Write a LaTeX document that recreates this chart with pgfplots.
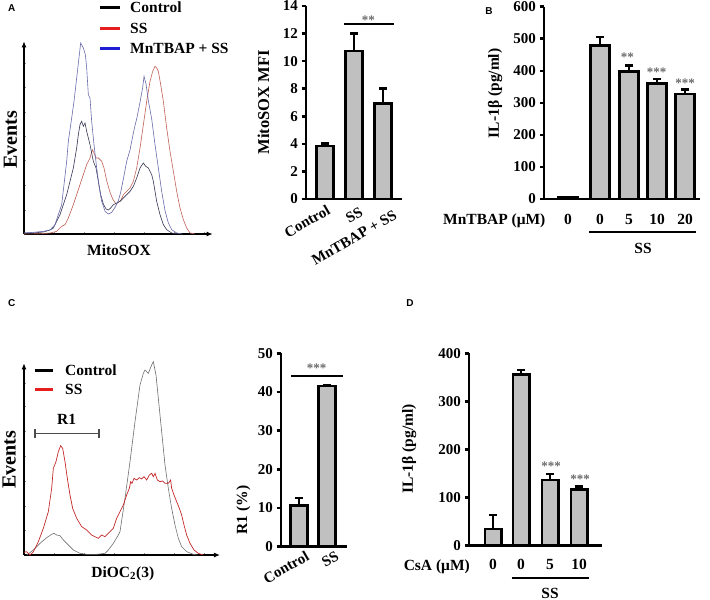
\documentclass[border=0pt]{standalone}
\usepackage{fontspec}
\setmainfont{Liberation Serif}
\newfontfamily\sanslbl{Liberation Sans}
\usepackage{pgfplots}
\pgfplotsset{compat=1.18}
\usetikzlibrary{arrows.meta}

\definecolor{barfill}{RGB}{192,192,192}
\definecolor{starc}{RGB}{105,105,105}
\definecolor{hblue}{RGB}{105,105,170}
\definecolor{hdark}{RGB}{55,55,85}
\definecolor{hred}{RGB}{190,95,85}
\definecolor{cred}{RGB}{195,40,40}
\definecolor{cgray}{RGB}{110,110,110}
\definecolor{legred}{RGB}{230,30,30}
\definecolor{legblue}{RGB}{30,30,210}

\newcommand{\fs}[1]{\fontsize{#1}{#1}\selectfont\bfseries}

\pgfplotsset{
  histo/.style={scale only axis, anchor=south west, axis lines=left,
    axis line style={line width=1.1pt, -{Latex[length=6pt,width=5pt]}},
    xmin=0, ymin=0, tick align=inside, major tick length=2.5pt,
    tick style={line width=0.4pt, black!45},
    xticklabels={}, yticklabels={}, clip=false},
  barax/.style={scale only axis, anchor=south west, axis lines=left,
    axis line style={line width=2.8pt, -}, xmin=0, ymin=0, clip=false,
    xtick=\empty, tick align=outside, major tick length=4.5pt,
    ytick style={line width=2.6pt, black},
    yticklabel style={font=\fs{15}},
    /pgf/number format/assume math mode=true},
  mybar/.style={ybar, bar width=#1, fill=barfill, draw=black, line width=2.6pt},
  stem/.style={ycomb, no marks, black, line width=2.6pt},
  cap/.style={only marks, mark=-, mark size=4pt, mark options={black, line width=2.6pt}},
}

\begin{document}
\begin{tikzpicture}[x=1pt,y=-1pt]
\path[use as bounding box] (0,0) rectangle (710,600);

% ---------- A: MitoSOX histogram
\begin{axis}[histo, at={(24pt,-234pt)}, width=188.7pt, height=192.7pt,
  xmax=566, ymax=578, xtick={90,180,270,360,450,540},
  ytick={70,146,220,293,366,440,513}]
\addplot[no marks, hred, line width=0.6pt] coordinates {
(0,0)(50,1)(78,3)(98,8)(113,23)(123,28)(133,48)(148,88)(158,118)(168,148)
(178,178)(188,208)(198,228)(205,253)(210,243)(216,228)(223,228)(233,218)
(240,198)(248,160)(258,125)(266,105)(276,90)(283,95)(290,100)(298,118)
(308,128)(318,138)(328,158)(338,198)(348,258)(358,328)(368,398)(378,458)
(386,488)(393,503)(398,498)(403,488)(410,448)(418,398)(428,318)(438,248)
(448,188)(458,128)(468,78)(478,43)(488,18)(498,3)(513,0)};
\addplot[no marks, hdark, line width=0.6pt] coordinates {
(0,3)(28,3)(58,6)(78,12)(88,18)(98,38)(108,58)(118,88)(128,118)(138,158)
(148,198)(158,258)(163,298)(168,328)(173,338)(178,323)(183,333)(188,308)
(193,288)(198,268)(203,243)(208,218)(216,198)(223,158)(230,118)(238,90)
(246,75)(253,72)(260,78)(268,88)(278,93)(288,98)(298,108)(308,118)(318,128)
(328,143)(338,168)(348,198)(358,213)(365,203)(373,198)(378,188)(383,178)
(388,158)(393,128)(398,98)(408,58)(418,28)(428,13)(443,3)(460,0)};
\addplot[no marks, hblue, line width=0.6pt] coordinates {
(0,3)(28,5)(58,8)(78,12)(93,28)(103,58)(113,88)(120,148)(128,218)(133,278)
(143,348)(150,398)(158,468)(166,538)(170,573)(178,558)(184,538)(188,498)
(193,418)(198,408)(203,338)(210,268)(218,198)(226,138)(233,98)(243,68)
(253,60)(263,65)(273,80)(283,100)(290,125)(298,165)(308,218)(318,252)
(328,303)(333,325)(338,345)(348,395)(356,440)(360,473)(366,450)(373,400)
(383,345)(393,268)(403,198)(413,128)(423,70)(433,33)(443,13)(458,3)(475,0)};
\end{axis}

% ---------- A: MitoSOX MFI bars (mean, mean + error)
\begin{axis}[barax, at={(306pt,-199pt)}, width=96pt, height=193pt,
  xmax=96, ymax=14, ytick={0,2,...,14}]
\addplot[stem] coordinates {(19,4.04)(48,12.0)(77,8.03)};
\addplot[mybar=17.4pt] coordinates {(19,3.84)(48,10.73)(77,6.94)};
\addplot[cap] coordinates {(19,4.04)(48,12.0)(77,8.03)};
\end{axis}

% ---------- B: IL-1beta, MnTBAP
\begin{axis}[barax, at={(544pt,-199pt)}, width=156pt, height=192.3pt,
  xmax=156, ymax=600, ytick={0,100,...,600}]
\addplot[stem] coordinates {(56,506)(85,416)(113,375)(141,342)};
\addplot[mybar=19pt] coordinates {(24,4)(56,479)(85,397)(113,361)(141,328)};
\addplot[cap] coordinates {(56,506)(85,416)(113,375)(141,342)};
\end{axis}

% ---------- C: DiOC2(3) histogram
\begin{axis}[histo, at={(24pt,-555pt)}, width=196pt, height=191.7pt,
  xmax=588, ymax=575, xtick={90,180,270,360,450,540},
  ytick={75,145,220,295,370,445,515}]
\addplot[no marks, cgray, line width=0.6pt] coordinates {
(8,0)(28,15)(48,35)(68,52)(83,62)(90,65)(98,60)(108,58)(118,45)(133,30)
(148,15)(168,5)(188,2)(218,2)(243,5)(253,15)(268,35)(283,60)(288,70)
(303,170)(318,280)(333,400)(348,510)(358,545)(363,555)(373,545)(383,570)
(388,580)(396,540)(403,470)(413,370)(423,270)(433,200)(443,140)(453,90)
(463,50)(473,25)(488,10)(508,2)(520,0)};
\addplot[no marks, cred, line width=0.7pt] coordinates {
(0,8)(8,10)(18,0)(28,10)(43,40)(58,80)(73,130)(83,200)(88,260)(96,280)
(103,310)(110,328)(116,320)(123,280)(130,230)(138,180)(146,140)(158,110)
(173,85)(188,75)(203,60)(213,55)(223,50)(233,60)(243,55)(253,65)(268,80)
(278,110)(288,130)(298,150)(308,180)(316,200)(320,220)(324,215)(330,230)
(338,225)(346,232)(353,228)(360,235)(368,225)(376,240)(383,245)(388,235)
(393,245)(400,225)(408,220)(416,222)(423,215)(433,215)(440,225)(443,200)
(450,180)(458,160)(466,140)(473,120)(480,90)(488,60)(498,35)(510,15)
(523,5)(538,0)};
\end{axis}

% ---------- C: R1 bars
\begin{axis}[barax, at={(281pt,-546.7pt)}, width=66pt, height=193.4pt,
  xmax=66, ymax=50, ytick={0,10,...,50}]
\addplot[stem] coordinates {(18,12.6)(46,41.85)};
\addplot[mybar=16.7pt] coordinates {(18,10.6)(46,41.55)};
\addplot[cap] coordinates {(18,12.6)(46,41.85)};
\end{axis}

% ---------- D: IL-1beta, CsA
\begin{axis}[barax, at={(469pt,-545.7pt)}, width=133pt, height=192.4pt,
  xmax=133, ymax=400, ytick={0,100,...,400}]
\addplot[stem] coordinates {(24,64)(52,365)(81,149)(110,123)};
\addplot[mybar=16.4pt] coordinates {(24,35)(52,356)(81,137)(110,117)};
\addplot[cap] coordinates {(24,64)(52,365)(81,149)(110,123)};
\end{axis}

% ---------- panel letters
\node[font=\sanslbl\bfseries\fontsize{10}{10}\selectfont] at (11.7,8) {A};
\node[font=\sanslbl\bfseries\fontsize{10}{10}\selectfont] at (489,10.7) {B};
\node[font=\sanslbl\bfseries\fontsize{10}{10}\selectfont] at (11.7,303) {C};
\node[font=\sanslbl\bfseries\fontsize{10}{10}\selectfont] at (410,303) {D};

% ---------- A histogram texts
\draw[black, line width=3pt] (100,7) -- (120,7);
\draw[legred, line width=3pt] (100,28) -- (120,28);
\draw[legblue, line width=3pt] (100,48) -- (120,48);
\node[font=\fs{15.5}, anchor=base west, inner sep=0pt] at (130,12.7) {Control};
\node[font=\fs{15.5}, anchor=base west, inner sep=0pt] at (130,33.3) {SS};
\node[font=\fs{15.5}, anchor=base west, inner sep=0pt] at (130,53.3) {MnTBAP + SS};
\node[font=\fs{20}, rotate=90] at (10.5,139.5) {Events};
\node[font=\fs{15.5}, anchor=base, inner sep=0pt] at (119,255) {MitoSOX};

% ---------- A bar texts
\node[font=\fs{16.5}, rotate=90] at (263.5,102.5) {MitoSOX MFI};
\draw[black, line width=1.6pt] (344.3,24) -- (394,24);
\node[font=\fs{13}, text=starc, anchor=base, inner sep=0pt] at (368.3,24) {**};
\node[font=\fs{15}, rotate=30, anchor=north east, inner sep=0pt] at (326,204) {Control};
\node[font=\fs{15}, rotate=30, anchor=north east, inner sep=0pt] at (359,206) {SS};
\node[font=\fs{15}, rotate=30, anchor=north east, inner sep=0pt] at (393,209) {MnTBAP + SS};

% ---------- B texts
\node[font=\fs{15.5}, rotate=90] at (495,93.3) {IL-1β (pg/ml)};
\node[font=\fs{15.5}, anchor=base west, inner sep=0pt] at (443,224) {MnTBAP (μM)};
\foreach \xx/\lab in {568/0,600/0,629/5,657/10,685/20}
  \node[font=\fs{15.5}, anchor=base, inner sep=0pt] at (\xx,224) {\lab};
\draw[black, line width=2pt] (589,232.3) -- (695.7,232.3);
\node[font=\fs{15.5}, anchor=base, inner sep=0pt] at (643,253) {SS};
\node[font=\fs{13}, text=starc, anchor=base, inner sep=0pt] at (627.3,61.4) {**};
\node[font=\fs{13}, text=starc, anchor=base, inner sep=0pt] at (656.7,76.4) {***};
\node[font=\fs{13}, text=starc, anchor=base, inner sep=0pt] at (685,87.4) {***};

% ---------- C histogram texts
\draw[black, line width=3pt] (35,370) -- (53.3,370);
\draw[legred, line width=3pt] (35,389.3) -- (53.3,389.3);
\node[font=\fs{15.5}, anchor=base west, inner sep=0pt] at (65,375) {Control};
\node[font=\fs{15.5}, anchor=base west, inner sep=0pt] at (65,394) {SS};
\draw[black!70, line width=1.5pt] (35,433.3) -- (99,433.3)
  (35,429) -- (35,437.6) (99,429) -- (99,437.6);
\node[font=\fs{15.5}, anchor=base, inner sep=0pt] at (66.7,424.3) {R1};
\node[font=\fs{20}, rotate=90] at (9.2,460) {Events};
\node[font=\fs{15.5}, anchor=base, inner sep=0pt] at (122.8,577.7) {DiOC\textsubscript{2}(3)};

% ---------- C bar texts
\node[font=\fs{15.5}, rotate=90] at (243.5,510) {R1 (\%)};
\draw[black, line width=1.6pt] (291,375.7) -- (342.7,375.7);
\node[font=\fs{13}, text=starc, anchor=base, inner sep=0pt] at (316.7,372) {***};
\node[font=\fs{15}, rotate=30, anchor=north east, inner sep=0pt] at (305,550) {Control};
\node[font=\fs{15}, rotate=30, anchor=north east, inner sep=0pt] at (335,550) {SS};

% ---------- D texts
\node[font=\fs{15.5}, rotate=90] at (409,449) {IL-1β (pg/ml)};
\node[font=\fs{15.5}, anchor=base east, inner sep=0pt] at (470,570) {CsA (μM)};
\foreach \xx/\lab in {493/0,521/0,550/5,579/10}
  \node[font=\fs{15.5}, anchor=base, inner sep=0pt] at (\xx,569) {\lab};
\draw[black, line width=2pt] (511.7,577.7) -- (589,577.7);
\node[font=\fs{15.5}, anchor=base, inner sep=0pt] at (550,598) {SS};
\node[font=\fs{13}, text=starc, anchor=base, inner sep=0pt] at (551,470.7) {***};
\node[font=\fs{13}, text=starc, anchor=base, inner sep=0pt] at (580,483) {***};
\end{tikzpicture}
\end{document}
